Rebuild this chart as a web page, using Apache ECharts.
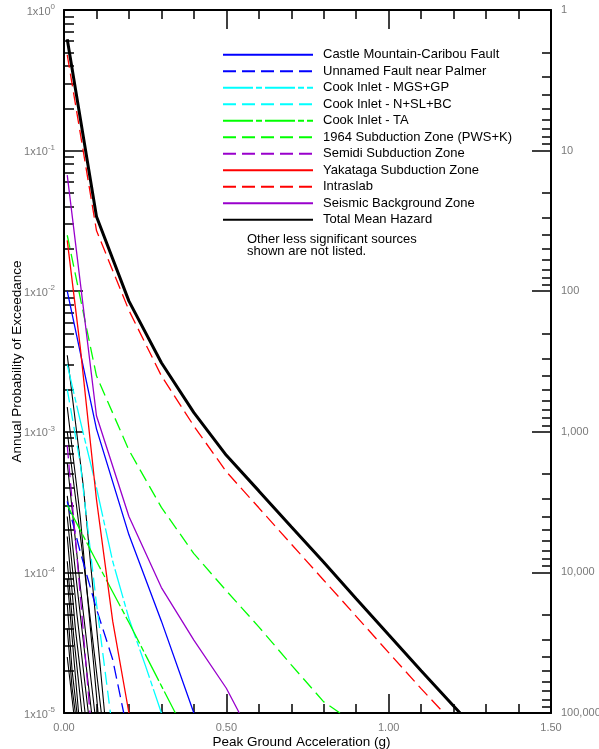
<!DOCTYPE html>
<html>
<head>
<meta charset="utf-8">
<script src="https://cdn.jsdelivr.net/npm/echarts@6/dist/echarts.min.js"></script>
<style>html,body{margin:0;padding:0;background:#fff}#c{width:599px;height:749px}</style>
</head>
<body>
<div id="c"></div>
<script>
// ---- data: [PGA (g), annual probability of exceedance] ----
const castleMountain = [[0.01,1.0e-2],[0.1,1.05e-3],[0.2,1.85e-4],[0.3,4.5e-5],[0.4,1.0e-5]];
const unnamedPalmer  = [[0.01,3.2e-4],[0.05,1.4e-4],[0.1,5.5e-5],[0.15,2.4e-5],[0.184,1.0e-5]];
const cookMGSGP      = [[0.01,3.0e-3],[0.05,1.2e-3],[0.1,4.0e-4],[0.15,1.2e-4],[0.2,4.7e-5],[0.25,2.2e-5],[0.3,1.0e-5]];
const cookNSLBC      = [[0.01,2.0e-3],[0.05,6.0e-4],[0.1,6.0e-5],[0.143,1.0e-5]];
const cookTA         = [[0.01,3.0e-4],[0.1,1.2e-4],[0.2,4.4e-5],[0.3,1.56e-5],[0.343,1.0e-5]];
const sub1964        = [[0.01,2.5e-2],[0.1,2.5e-3],[0.2,7.4e-4],[0.3,2.9e-4],[0.4,1.36e-4],[0.5,7.4e-5],[0.6,4.1e-5],[0.7,2.2e-5],[0.8,1.2e-5],[0.85,1.0e-5]];
const semidi         = [[0.01,8.0e-4],[0.05,7.0e-5],[0.08,1.0e-5]];
const yakataga       = [[0.01,2.3e-2],[0.05,4.0e-3],[0.1,3.3e-4],[0.15,4.5e-5],[0.2,1.0e-5]];
const intraslab      = [[0.01,0.48],[0.1,2.7e-2],[0.2,7.3e-3],[0.3,2.5e-3],[0.4,1.1e-3],[0.5,5.2e-4],[0.6,2.88e-4],[0.7,1.59e-4],[0.8,8.8e-5],[0.9,4.87e-5],[1.0,2.69e-5],[1.1,1.49e-5],[1.17,1.0e-5]];
const backgroundZone = [[0.01,6.7e-2],[0.1,1.3e-3],[0.2,2.5e-4],[0.3,7.8e-5],[0.4,3.3e-5],[0.5,1.5e-5],[0.54,1.0e-5]];
const totalMean      = [[0.01,0.62],[0.1,3.4e-2],[0.2,8.5e-3],[0.3,3.1e-3],[0.4,1.37e-3],[0.5,6.8e-4],[0.6,3.8e-4],[0.7,2.11e-4],[0.8,1.18e-4],[0.9,6.5e-5],[1.0,3.6e-5],[1.1,2.0e-5],[1.2,1.12e-5],[1.22,1.0e-5]];
// other less significant sources (not in legend)
const otherSources = [
  [[0.01,3.5e-3],[0.06,4.0e-4],[0.125,1.0e-5]],
  [[0.01,1.5e-3],[0.05,2.5e-4],[0.105,1.0e-5]],
  [[0.01,1.0e-3],[0.06,1.2e-4],[0.115,1.0e-5]],
  [[0.01,6.0e-4],[0.05,8.0e-5],[0.095,1.0e-5]],
  [[0.01,3.5e-4],[0.04,8.0e-5],[0.085,1.0e-5]],
  [[0.01,2.5e-4],[0.04,5.0e-5],[0.075,1.0e-5]],
  [[0.01,1.8e-4],[0.035,4.0e-5],[0.065,1.0e-5]],
  [[0.01,1.2e-4],[0.03,3.5e-5],[0.055,1.0e-5]],
  [[0.01,9.0e-5],[0.03,2.5e-5],[0.045,1.0e-5]],
  [[0.01,6.0e-5],[0.025,2.0e-5],[0.04,1.0e-5]],
  [[0.01,4.0e-5],[0.025,1.5e-5],[0.035,1.0e-5]],
  [[0.01,2.5e-5],[0.03,1.0e-5]]
];
const legendNames = ['Castle Mountain-Caribou Fault','Unnamed Fault near Palmer','Cook Inlet - MGS+GP','Cook Inlet - N+SL+BC','Cook Inlet - TA','1964 Subduction Zone (PWS+K)','Semidi Subduction Zone','Yakataga Subduction Zone','Intraslab','Seismic Background Zone','Total Mean Hazard'];
const xTickLabels = ['0.00','0.50','1.00','1.50'];
const returnPeriodLabels = ['1','10','100','1,000','10,000','100,000'];
const noteText = ['Other less significant sources','shown are not listed.'];

// ---- styling ----
const F = '"Liberation Sans", Arial, sans-serif';
const GRAY = '#7a7a7a';
const DASH = [13,6];
const DASHDOT = [30,3,6,3];

const leftMinor = [], rightMinor = [];
for (let e = -5; e < 0; e++) for (let k = 2; k <= 9; k++) leftMinor.push(k * Math.pow(10, e));
for (let n = 0; n < 5; n++) for (let k = 2; k <= 9; k++) rightMinor.push(1 / (k * Math.pow(10, n)));

function line(name, data, color, type, width, z) {
  return {
    name, type: 'line', data, xAxisIndex: 0, yAxisIndex: 0,
    symbol: 'none', showSymbol: false, smooth: false, clip: true, z: z || 2,
    lineStyle: { color, type, width }, itemStyle: { color },
    emphasis: { disabled: true }, animation: false
  };
}

const series = [];
otherSources.forEach((d, i) => series.push(line('Other source ' + (i + 1), d, '#000', 'solid', 1.1, 1)));
series.push(line(legendNames[0], castleMountain, '#0000ff', 'solid', 1.3));
series.push(line(legendNames[1], unnamedPalmer, '#0000ff', DASH, 1.3));
series.push(line(legendNames[2], cookMGSGP, '#00ffff', DASHDOT, 1.3));
series.push(line(legendNames[3], cookNSLBC, '#00ffff', DASH, 1.3));
series.push(line(legendNames[4], cookTA, '#00ff00', DASHDOT, 1.3));
series.push(line(legendNames[5], sub1964, '#00ff00', DASH, 1.3));
series.push(line(legendNames[6], semidi, '#9900cc', DASH, 1.3));
series.push(line(legendNames[7], yakataga, '#ff0000', 'solid', 1.3));
series.push(line(legendNames[8], intraslab, '#ff0000', DASH, 1.3));
series.push(line(legendNames[9], backgroundZone, '#9900cc', 'solid', 1.3));
series.push(line(legendNames[10], totalMean, '#000000', 'solid', 3, 5));

const tickStyle = { color: '#000', width: 1.5 };
function xAx(pos, labels) {
  return {
    type: 'value', position: pos, min: 0, max: 1.5, interval: 0.5,
    axisLine: { onZero: false, lineStyle: { color: '#000', width: 2 } },
    axisTick: { inside: true, length: 19, lineStyle: tickStyle },
    minorTick: { show: true, splitNumber: 5, length: 9, lineStyle: tickStyle },
    splitLine: { show: false }, minorSplitLine: { show: false },
    axisLabel: labels ? { show: true, color: GRAY, fontSize: 11, fontFamily: F, margin: 9,
      formatter: v => xTickLabels[Math.round(v / 0.5)] } : { show: false },
    name: labels ? 'Peak Ground Acceleration (g)' : '',
    nameLocation: 'middle', nameGap: 22, nameMoveOverlap: false,
    nameTextStyle: { color: '#000', fontSize: 13.5, fontFamily: F, padding: [0, 12, 0, 0] }
  };
}
function yAx(pos, major, extra) {
  const o = {
    type: 'log', logBase: 10, position: pos, min: 1e-5, max: 1,
    axisLine: { show: major, onZero: false, lineStyle: { color: '#000', width: 2 } },
    splitLine: { show: false },
    axisTick: { inside: true, length: major ? 19 : 10, lineStyle: tickStyle },
    axisLabel: { show: false }
  };
  return Object.assign(o, extra || {});
}

const option = {
  backgroundColor: '#fff',
  animation: false,
  grid: { left: 64, right: 48, top: 10, bottom: 36, containLabel: false, outerBoundsMode: 'none' },
  xAxis: [xAx('bottom', true), xAx('top', false)],
  yAxis: [
    yAx('left', true, {
      axisLabel: {
        show: true, margin: 9,
        formatter: v => '{b|1x10}{s|' + Math.round(Math.log10(v)) + '}',
        rich: {
          b: { fontSize: 11, color: GRAY, fontFamily: F, verticalAlign: 'bottom' },
          s: { fontSize: 8, color: GRAY, fontFamily: F, verticalAlign: 'bottom', padding: [0, 0, 6, 0] }
        }
      },
      name: 'Annual Probability of Exceedance', nameLocation: 'middle', nameGap: 40, nameRotate: 90,
      nameMoveOverlap: false,
      nameTextStyle: { color: '#000', fontSize: 13.5, fontFamily: F }
    }),
    yAx('left', false, { axisTick: { inside: true, length: 10, lineStyle: tickStyle, customValues: leftMinor } }),
    yAx('right', true, {
      axisLabel: { show: true, margin: 10, color: GRAY, fontSize: 11, fontFamily: F,
        formatter: v => returnPeriodLabels[-Math.round(Math.log10(v))] }
    }),
    yAx('right', false, { axisTick: { inside: true, length: 9, lineStyle: tickStyle, customValues: rightMinor } })
  ],
  legend: {
    data: legendNames, orient: 'vertical', left: 222, top: 48.3, padding: 0,
    itemWidth: 90, itemHeight: 12, itemGap: 3.5, selectedMode: false,
    itemStyle: { opacity: 0, borderWidth: 0 },
    textStyle: { color: '#000', fontSize: 13, fontFamily: F, padding: [0, 0, 0, 5], lineHeight: 12 }
  },
  graphic: [{
    type: 'text', left: 247, top: 233,
    style: { text: noteText.join('\n'), fill: '#000', font: '13px ' + F, lineHeight: 12 }
  }],
  series
};

const chart = echarts.init(document.getElementById('c'), null, { renderer: 'canvas' });
chart.setOption(option);
</script>
</body>
</html>
